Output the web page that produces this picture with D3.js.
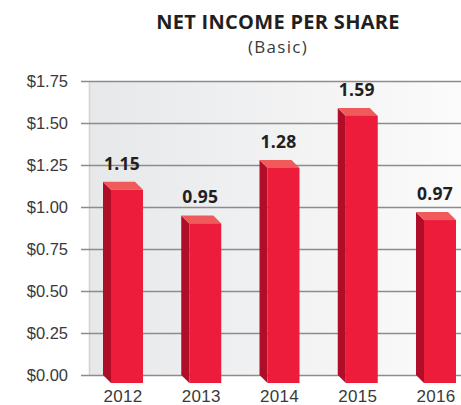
<!DOCTYPE html>
<meta charset="utf-8">
<style>
body { margin: 0; background: #fff; font-family: "Open Sans", sans-serif; }
.tick text { fill: #3a3a3a; }
</style>
<body>
<div id="chart"></div>
<script src="https://d3js.org/d3.v7.min.js"></script>
<script>

// data
var years = ["2012", "2013", "2014", "2015", "2016"];
var eps = [1.15, 0.95, 1.28, 1.59, 0.97];
var yTicks = [0, 0.25, 0.5, 0.75, 1.0, 1.25, 1.5, 1.75];

var width = 461, height = 405;
var depth = 8; // 3d offset of the bars

var svg = d3.select("#chart").append("svg")
    .attr("width", width)
    .attr("height", height);

var x = d3.scaleBand().domain(years).range([103, 456]).paddingInner(0.489).paddingOuter(0);
var y = d3.scaleLinear().domain([0, 1.75]).range([375, 81]);

// grey gradient panel behind the plot
var grad = svg.append("defs").append("linearGradient")
    .attr("id", "bg").attr("x1", "0%").attr("x2", "100%");
grad.append("stop").attr("offset", "0%").attr("stop-color", "#e7e8ea");
grad.append("stop").attr("offset", "100%").attr("stop-color", "#fbfbfb");

svg.append("rect")
    .attr("x", 89).attr("y", y(1.75))
    .attr("width", width - 89).attr("height", y(0) - y(1.75))
    .attr("fill", "url(#bg)");
svg.append("line")
    .attr("x1", 89.5).attr("x2", 89.5)
    .attr("y1", y(1.75)).attr("y2", y(0))
    .attr("stroke", "#d2d3d5").attr("stroke-width", 1.5);

// y axis + gridlines
var yAxis = svg.append("g")
    .attr("transform", "translate(" + width + ",0)")
    .call(d3.axisLeft(y).tickValues(yTicks).tickSize(width - 81).tickPadding(13)
      .tickFormat(function(d) { return "$" + d3.format(".2f")(d); }));
yAxis.select(".domain").remove();
yAxis.selectAll("line").attr("stroke", "#8c8c8c").attr("stroke-width", 1.5);
yAxis.selectAll("text").style("font-size", "16.5px");

// bars
var bar = svg.append("g").selectAll("g")
    .data(years.map(function(yr, i) { return {year: yr, v: eps[i]}; }))
    .enter().append("g");

var bw = x.bandwidth();

// left side face
bar.append("path")
    .attr("fill", "#b00d29")
    .attr("d", function(d) {
      var x0 = x(d.year), yt = y(d.v), yb = y(0);
      return "M" + x0 + "," + yt + "L" + (x0 + depth) + "," + (yt + depth) +
        "L" + (x0 + depth) + "," + (yb + depth) + "L" + x0 + "," + yb + "Z";
    });
// top face
bar.append("path")
    .attr("fill", "#f05a5a")
    .attr("d", function(d) {
      var x0 = x(d.year), yt = y(d.v);
      return "M" + x0 + "," + yt + "L" + (x0 + bw - depth) + "," + yt +
        "L" + (x0 + bw) + "," + (yt + depth) + "L" + (x0 + depth) + "," + (yt + depth) + "Z";
    });
// front face
bar.append("rect")
    .attr("fill", "#ed1c3b")
    .attr("x", function(d) { return x(d.year) + depth; })
    .attr("y", function(d) { return y(d.v) + depth; })
    .attr("width", bw - depth)
    .attr("height", function(d) { return y(0) - y(d.v); });

// value labels
bar.append("text")
    .attr("x", function(d) { return x(d.year) + bw / 2 - 1; })
    .attr("y", function(d) { return y(d.v) - 12; })
    .attr("text-anchor", "middle")
    .style("font-size", "17.5px")
    .style("font-weight", "bold")
    .style("letter-spacing", "0.3px")
    .style("fill", "#231f20")
    .text(function(d) { return d3.format(".2f")(d.v); });

// x axis labels
var xAxis = svg.append("g")
    .attr("transform", "translate(0,390)")
    .call(d3.axisBottom(x).tickSize(0).tickPadding(0));
xAxis.select(".domain").remove();
xAxis.selectAll("text").style("font-size", "17px").style("letter-spacing", "0.3px").attr("dy", "0.71em");

// title
svg.append("text")
    .attr("x", 278).attr("y", 29)
    .attr("text-anchor", "middle")
    .style("font-size", "20px")
    .style("font-weight", "bold")
    .style("letter-spacing", "0.3px")
    .style("fill", "#231f20")
    .text("NET INCOME PER SHARE");

svg.append("text")
    .attr("x", 278).attr("y", 53)
    .attr("text-anchor", "middle")
    .style("font-size", "17px")
    .style("letter-spacing", "1.3px")
    .style("fill", "#3a3a3a")
    .text("(Basic)");

</script>
</body>
